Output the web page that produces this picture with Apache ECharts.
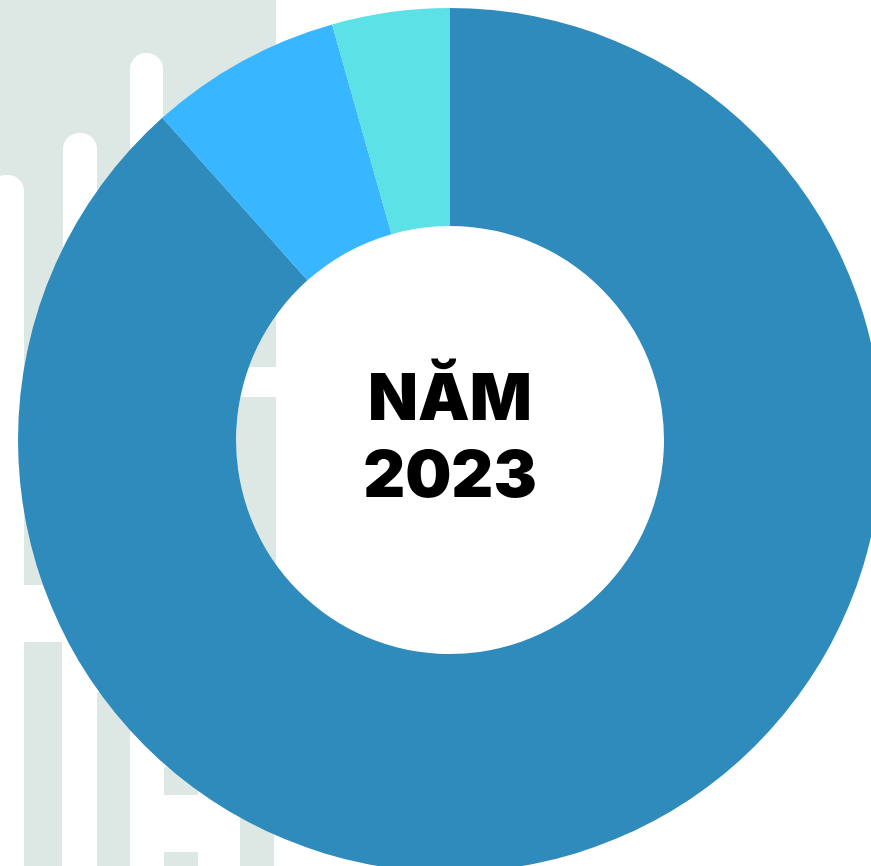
<!DOCTYPE html>
<html>
<head>
<meta charset="utf-8">
<script src="https://cdn.jsdelivr.net/npm/echarts@6/dist/echarts.min.js"></script>
<style>
  html, body { margin: 0; padding: 0; background: #ffffff; }
  #chart { width: 871px; height: 866px; }
</style>
</head>
<body>
<div id="chart"></div>
<script>
const categories = ['Nhóm 1', 'Nhóm 2', 'Nhóm 3'];
const values = [88.4, 7.2, 4.4];
const colors = ['#2E8BBC', '#38B6FF', '#5CE1E6'];
const centerText = 'NĂM\n2023';

const chart = echarts.init(document.getElementById('chart'), null, { renderer: 'canvas' });

const deco = '#DDE8E4';
const graphics = [
  { type: 'rect', z: 0, shape: { x: 0, y: 0, width: 276, height: 585 }, style: { fill: deco } },
  { type: 'rect', z: 1, shape: { x: -10, y: 175, width: 34, height: 420, r: [16, 16, 0, 0] }, style: { fill: '#ffffff' } },
  { type: 'rect', z: 1, shape: { x: 63, y: 133, width: 34, height: 460, r: [16, 16, 0, 0] }, style: { fill: '#ffffff' } },
  { type: 'rect', z: 1, shape: { x: 130, y: 53, width: 33, height: 540, r: [16, 16, 0, 0] }, style: { fill: '#ffffff' } },
  { type: 'rect', z: 1, shape: { x: 180, y: 367, width: 100, height: 30 }, style: { fill: '#ffffff' } },
  { type: 'rect', z: 0, shape: { x: 24, y: 642, width: 38, height: 230 }, style: { fill: deco } },
  { type: 'rect', z: 0, shape: { x: 97, y: 692, width: 33, height: 180 }, style: { fill: deco } },
  { type: 'rect', z: 0, shape: { x: 164, y: 767, width: 34, height: 28 }, style: { fill: deco } },
  { type: 'rect', z: 0, shape: { x: 164, y: 852, width: 34, height: 20 }, style: { fill: deco } },
  { type: 'rect', z: 0, shape: { x: 240, y: 800, width: 34, height: 70 }, style: { fill: deco } },
  {
    type: 'text', z: 100, x: 450, y: 439,
    style: {
      text: centerText,
      fill: '#000000',
      font: '900 65px Inter, "Open Sans", sans-serif',
      lineHeight: 77,
      textAlign: 'center',
      textVerticalAlign: 'middle'
    }
  }
];

chart.setOption({
  animation: false,
  backgroundColor: '#ffffff',
  graphic: { elements: graphics },
  series: [{
    type: 'pie',
    z: 10,
    center: [450, 440],
    radius: [214, 432],
    startAngle: 90,
    clockwise: true,
    silent: true,
    label: { show: false },
    labelLine: { show: false },
    itemStyle: { borderWidth: 0 },
    emphasis: { disabled: true },
    data: categories.map((c, i) => ({ name: c, value: values[i], itemStyle: { color: colors[i] } }))
  }]
});
</script>
</body>
</html>
